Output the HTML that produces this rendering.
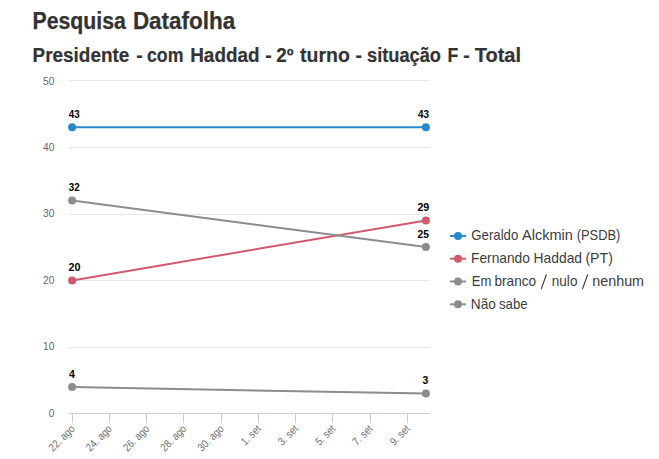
<!DOCTYPE html>
<html><head><meta charset="utf-8">
<style>
html,body{margin:0;padding:0;background:#fff;}
body{width:659px;height:459px;overflow:hidden;position:relative;font-family:"Liberation Sans",sans-serif;}
svg{position:absolute;left:0;top:0;}
text{font-family:"Liberation Sans",sans-serif;}
.t1{font-size:23px;font-weight:bold;fill:#333;stroke:#333;stroke-width:0.25px;}
.t2{font-size:19.4px;font-weight:bold;fill:#333;stroke:#333;stroke-width:0.2px;}
.yl{font-size:11px;fill:#666;}
.xl{font-size:11px;fill:#6e6e6e;}
.dl{font-size:11px;font-weight:bold;fill:#000;}
.lg{font-size:14.3px;fill:#3c3c3c;}
</style></head><body>
<svg width="659" height="459" viewBox="0 0 659 459">
<text x="32.46" y="28.8" class="t1" textLength="93.40" lengthAdjust="spacingAndGlyphs">Pesquisa</text>
<text x="132.88" y="28.8" class="t1" textLength="102.38" lengthAdjust="spacingAndGlyphs">Datafolha</text>
<text x="32.62" y="61.8" class="t2" textLength="96.71" lengthAdjust="spacingAndGlyphs">Presidente</text>
<text x="139.40" y="61.8" class="t2" text-anchor="middle">-</text>
<text x="146.99" y="61.8" class="t2" textLength="36.50" lengthAdjust="spacingAndGlyphs">com</text>
<text x="190.22" y="61.8" class="t2" textLength="69.30" lengthAdjust="spacingAndGlyphs">Haddad</text>
<text x="268.40" y="61.8" class="t2" text-anchor="middle">-</text>
<text x="276.34" y="61.8" class="t2" textLength="17.31" lengthAdjust="spacingAndGlyphs">2º</text>
<text x="300.06" y="61.8" class="t2" textLength="49.77" lengthAdjust="spacingAndGlyphs">turno</text>
<text x="358.80" y="61.8" class="t2" text-anchor="middle">-</text>
<text x="367.06" y="61.8" class="t2" textLength="73.92" lengthAdjust="spacingAndGlyphs">situação</text>
<text x="447.40" y="61.8" class="t2" textLength="10.83" lengthAdjust="spacingAndGlyphs">F</text>
<text x="466.60" y="61.8" class="t2" text-anchor="middle">-</text>
<text x="474.70" y="61.8" class="t2" textLength="46.39" lengthAdjust="spacingAndGlyphs">Total</text>
<path d="M69 347.5H430" stroke="#e6e6e6" stroke-width="1"/>
<path d="M69 280.5H430" stroke="#e6e6e6" stroke-width="1"/>
<path d="M69 214.5H430" stroke="#e6e6e6" stroke-width="1"/>
<path d="M69 147.5H430" stroke="#e6e6e6" stroke-width="1"/>
<path d="M69 80.5H430" stroke="#e6e6e6" stroke-width="1"/>
<path d="M69 413.5H430" stroke="#c8ccd6" stroke-width="1"/>
<path d="M72.5 413V423" stroke="#c8ccd6" stroke-width="1"/>
<path d="M109.5 413V423" stroke="#c8ccd6" stroke-width="1"/>
<path d="M146.5 413V423" stroke="#c8ccd6" stroke-width="1"/>
<path d="M183.5 413V423" stroke="#c8ccd6" stroke-width="1"/>
<path d="M221.5 413V423" stroke="#c8ccd6" stroke-width="1"/>
<path d="M258.5 413V423" stroke="#c8ccd6" stroke-width="1"/>
<path d="M295.5 413V423" stroke="#c8ccd6" stroke-width="1"/>
<path d="M332.5 413V423" stroke="#c8ccd6" stroke-width="1"/>
<path d="M370.5 413V423" stroke="#c8ccd6" stroke-width="1"/>
<path d="M407.5 413V423" stroke="#c8ccd6" stroke-width="1"/>
<text x="54.4" y="417.2" text-anchor="end" class="yl" textLength="5.6" lengthAdjust="spacingAndGlyphs">0</text>
<text x="54.4" y="350.3" text-anchor="end" class="yl" textLength="11.4" lengthAdjust="spacingAndGlyphs">10</text>
<text x="54.4" y="284.3" text-anchor="end" class="yl" textLength="11.4" lengthAdjust="spacingAndGlyphs">20</text>
<text x="54.4" y="217.3" text-anchor="end" class="yl" textLength="11.4" lengthAdjust="spacingAndGlyphs">30</text>
<text x="54.4" y="151.3" text-anchor="end" class="yl" textLength="11.4" lengthAdjust="spacingAndGlyphs">40</text>
<text x="54.4" y="85.2" text-anchor="end" class="yl" textLength="11.4" lengthAdjust="spacingAndGlyphs">50</text>
<text transform="translate(75.4 429.5) rotate(-45)" text-anchor="end" class="xl" textLength="31.7" lengthAdjust="spacingAndGlyphs">22. ago</text>
<text transform="translate(112.6 429.5) rotate(-45)" text-anchor="end" class="xl" textLength="31.7" lengthAdjust="spacingAndGlyphs">24. ago</text>
<text transform="translate(149.9 429.5) rotate(-45)" text-anchor="end" class="xl" textLength="31.7" lengthAdjust="spacingAndGlyphs">26. ago</text>
<text transform="translate(187.1 429.5) rotate(-45)" text-anchor="end" class="xl" textLength="31.7" lengthAdjust="spacingAndGlyphs">28. ago</text>
<text transform="translate(224.4 429.5) rotate(-45)" text-anchor="end" class="xl" textLength="31.7" lengthAdjust="spacingAndGlyphs">30. ago</text>
<text transform="translate(261.6 429.5) rotate(-45)" text-anchor="end" class="xl" textLength="23.3" lengthAdjust="spacingAndGlyphs">1. set</text>
<text transform="translate(298.8 429.5) rotate(-45)" text-anchor="end" class="xl" textLength="23.3" lengthAdjust="spacingAndGlyphs">3. set</text>
<text transform="translate(336.1 429.5) rotate(-45)" text-anchor="end" class="xl" textLength="23.3" lengthAdjust="spacingAndGlyphs">5. set</text>
<text transform="translate(373.3 429.5) rotate(-45)" text-anchor="end" class="xl" textLength="23.3" lengthAdjust="spacingAndGlyphs">7. set</text>
<text transform="translate(410.6 429.5) rotate(-45)" text-anchor="end" class="xl" textLength="23.3" lengthAdjust="spacingAndGlyphs">9. set</text>
<path d="M72.10 127.22L425.88 127.22" stroke="#2b87cd" stroke-width="2" fill="none"/>
<path d="M72.10 280.40L425.88 220.46" stroke="#d25a6e" stroke-width="2" fill="none"/>
<path d="M72.10 200.48L425.88 247.10" stroke="#8c8c8c" stroke-width="2" fill="none"/>
<path d="M72.10 386.96L425.88 393.62" stroke="#8c8c8c" stroke-width="2" fill="none"/>
<circle cx="72.10" cy="127.22" r="4" fill="#2b87cd"/>
<circle cx="425.88" cy="127.22" r="4" fill="#2b87cd"/>
<circle cx="72.10" cy="280.40" r="4" fill="#d25a6e"/>
<circle cx="425.88" cy="220.46" r="4" fill="#d25a6e"/>
<circle cx="72.10" cy="200.48" r="4" fill="#8c8c8c"/>
<circle cx="425.88" cy="247.10" r="4" fill="#8c8c8c"/>
<circle cx="72.10" cy="386.96" r="4" fill="#8c8c8c"/>
<circle cx="425.88" cy="393.62" r="4" fill="#8c8c8c"/>
<text x="74.20" y="117.82" text-anchor="middle" class="dl" textLength="10.9" lengthAdjust="spacingAndGlyphs">43</text>
<text x="423.45" y="117.82" text-anchor="middle" class="dl" textLength="11.0" lengthAdjust="spacingAndGlyphs">43</text>
<text x="74.50" y="271.00" text-anchor="middle" class="dl" textLength="12.0" lengthAdjust="spacingAndGlyphs">20</text>
<text x="423.35" y="211.06" text-anchor="middle" class="dl" textLength="11.8" lengthAdjust="spacingAndGlyphs">29</text>
<text x="74.20" y="191.08" text-anchor="middle" class="dl" textLength="10.9" lengthAdjust="spacingAndGlyphs">32</text>
<text x="423.15" y="237.70" text-anchor="middle" class="dl" textLength="11.4" lengthAdjust="spacingAndGlyphs">25</text>
<text x="71.90" y="377.56" text-anchor="middle" class="dl" textLength="5.9" lengthAdjust="spacingAndGlyphs">4</text>
<text x="425.50" y="384.22" text-anchor="middle" class="dl" textLength="5.8" lengthAdjust="spacingAndGlyphs">3</text>
<path d="M450 235.9H466" stroke="#2b87cd" stroke-width="2"/>
<circle cx="458" cy="235.9" r="4" fill="#2b87cd"/>
<text x="471.24" y="240.2" class="lg" textLength="47.09" lengthAdjust="spacingAndGlyphs">Geraldo</text>
<text x="521.96" y="240.2" class="lg" textLength="50.95" lengthAdjust="spacingAndGlyphs">Alckmin</text>
<text x="576.70" y="240.2" class="lg" textLength="43.60" lengthAdjust="spacingAndGlyphs">(PSDB)</text>
<path d="M450 258.7H466" stroke="#d25a6e" stroke-width="2"/>
<circle cx="458" cy="258.7" r="4" fill="#d25a6e"/>
<text x="471.07" y="263.0" class="lg" textLength="58.79" lengthAdjust="spacingAndGlyphs">Fernando</text>
<text x="533.56" y="263.0" class="lg" textLength="48.52" lengthAdjust="spacingAndGlyphs">Haddad</text>
<text x="585.42" y="263.0" class="lg" textLength="27.45" lengthAdjust="spacingAndGlyphs">(PT)</text>
<path d="M450 281.5H466" stroke="#8c8c8c" stroke-width="2"/>
<circle cx="458" cy="281.5" r="4" fill="#8c8c8c"/>
<text x="471.72" y="285.8" class="lg" textLength="19.63" lengthAdjust="spacingAndGlyphs">Em</text>
<text x="494.41" y="285.8" class="lg" textLength="41.74" lengthAdjust="spacingAndGlyphs">branco</text>
<path d="M541.20 289.1L546.40 274.5" stroke="#3a3a3a" stroke-width="1.15"/>
<text x="551.78" y="285.8" class="lg" textLength="25.67" lengthAdjust="spacingAndGlyphs">nulo</text>
<path d="M582.45 289.1L587.65 274.5" stroke="#3a3a3a" stroke-width="1.15"/>
<text x="592.33" y="285.8" class="lg" textLength="51.72" lengthAdjust="spacingAndGlyphs">nenhum</text>
<path d="M450 304.3H466" stroke="#8c8c8c" stroke-width="2"/>
<circle cx="458" cy="304.3" r="4" fill="#8c8c8c"/>
<text x="470.87" y="308.6" class="lg" textLength="25.10" lengthAdjust="spacingAndGlyphs">Não</text>
<text x="498.94" y="308.6" class="lg" textLength="28.64" lengthAdjust="spacingAndGlyphs">sabe</text>
</svg>
</body></html>
